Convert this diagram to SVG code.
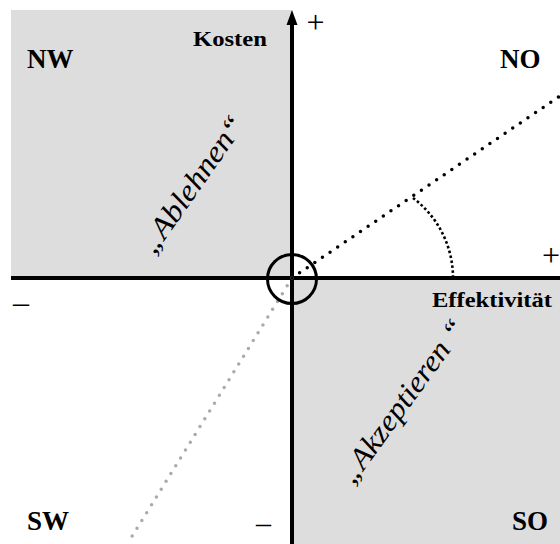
<svg xmlns="http://www.w3.org/2000/svg" width="560" height="544" viewBox="0 0 560 544">
<style>
.q{fill:#dddddd;stroke:none}
.lbl{font-family:"Liberation Serif","Times New Roman",serif;font-weight:bold;font-size:27px;fill:#000}
.ax{font-family:"Liberation Serif","Times New Roman",serif;font-weight:bold;fill:#000}
.sg{font-family:"Liberation Serif","Times New Roman",serif;fill:#000}
.it{font-family:"Liberation Serif","Times New Roman",serif;font-style:italic;font-size:30px;fill:#000}
.axis{stroke:#000;stroke-width:4;fill:none}
</style>
<rect width="560" height="544" fill="#fff"/>
<g id="quadrant-nw">
<rect class="q" x="11" y="10" width="281" height="268"/>
<text class="lbl" x="27" y="68">NW</text>
<text class="it" transform="translate(200,190) rotate(-55)" text-anchor="middle" textLength="160" lengthAdjust="spacingAndGlyphs">„Ablehnen“</text>
</g>
<g id="quadrant-so">
<rect class="q" x="292" y="278" width="268" height="266"/>
<text class="lbl" x="512" y="530">SO</text>
<text class="it" transform="translate(410,407) rotate(-54)" text-anchor="middle" textLength="194" lengthAdjust="spacingAndGlyphs">„Akzeptieren “</text>
</g>
<g id="quadrant-no">
<text class="lbl" x="500" y="68">NO</text>
</g>
<g id="quadrant-sw">
<text class="lbl" x="27" y="530">SW</text>
</g>
<g id="connectors">
<line class="axis" x1="11" y1="278" x2="560" y2="278"/>
<line class="axis" x1="292" y1="22" x2="292" y2="544"/>
<polygon points="292,10 286.5,25 297.5,25" fill="#000"/>
<line x1="292" y1="278" x2="131" y2="538" stroke="#aaaaaa" stroke-width="3.5" stroke-linecap="round" stroke-dasharray="0 9.2"/>
<line x1="292" y1="278" x2="560" y2="96" stroke="#000" stroke-width="3.5" stroke-linecap="round" stroke-dasharray="0 9.2"/>
<path d="M413,198 A100,100 0 0 1 453,276" fill="none" stroke="#000" stroke-width="2.6" stroke-dasharray="2.6 2.4"/>
<circle cx="292" cy="279" r="24.5" fill="none" stroke="#000" stroke-width="3"/>
</g>
<g id="axis-labels">
<text class="ax" x="193" y="46" font-size="20" textLength="74" lengthAdjust="spacingAndGlyphs">Kosten</text>
<text class="ax" x="432" y="307" font-size="21" textLength="120" lengthAdjust="spacingAndGlyphs">Effektivität</text>
<text class="sg" x="315.5" y="33" font-size="32" text-anchor="middle">+</text>
<text class="sg" x="551" y="266" font-size="32" text-anchor="middle">+</text>
<text class="sg" x="21" y="313" font-size="32" text-anchor="middle">–</text>
<text class="sg" x="263.5" y="533" font-size="30" text-anchor="middle">–</text>
</g>
</svg>
